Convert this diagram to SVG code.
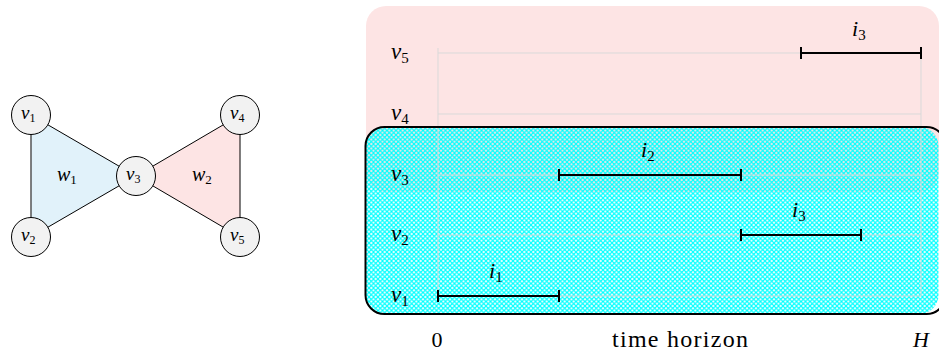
<svg xmlns="http://www.w3.org/2000/svg" width="939" height="354" viewBox="0 0 939 354">
<style>
.m{font-family:"Liberation Serif","DejaVu Serif",serif;font-style:italic;fill:#000}
.s{font-style:normal}
.r{font-family:"Liberation Serif","DejaVu Serif",serif;fill:#000}
.node{fill:#f2f2f2;stroke:#000;stroke-width:1}
.edge{stroke:#000;stroke-width:1;fill:none}
.grid{stroke:#d9d9d9;stroke-width:1;fill:none}
.iv{stroke:#000;stroke-width:2;fill:none}
</style>
<defs>
<pattern id="hatch" patternUnits="userSpaceOnUse" width="4.5" height="4.5">
<path d="M-1,-1 L5.5,5.5 M5.5,-1 L-1,5.5" stroke="#00ffff" stroke-width="1.2"/>
</pattern>
</defs>

<!-- left hypergraph -->
<g id="hyperedges">
<polygon id="w1-area" points="31,115 31,237 136,176" fill="#e1f2fa"/>
<polygon id="w2-area" points="240,115 240,237 136,176" fill="#fde4e4"/>
</g>
<g id="connectors">
<line x1="31" y1="115" x2="31" y2="237" style="stroke:#555;stroke-width:1.5"/>
<line class="edge" x1="31" y1="115" x2="136" y2="176"/>
<line class="edge" x1="31" y1="237" x2="136" y2="176"/>
<line class="edge" x1="240" y1="115" x2="136" y2="176"/>
<line class="edge" x1="240" y1="237" x2="136" y2="176"/>
<line class="edge" x1="240" y1="115" x2="240" y2="237"/>
</g>
<g id="w1-label"><text class="m" x="57" y="181" font-size="20">w<tspan class="s" font-size="13" dy="3">1</tspan></text></g>
<g id="w2-label"><text class="m" x="192" y="181" font-size="20">w<tspan class="s" font-size="13" dy="3">2</tspan></text></g>
<g id="n-v1"><circle class="node" cx="31" cy="115" r="19.5"/><text class="m" x="21" y="119" font-size="19">v<tspan class="s" font-size="12" dy="3">1</tspan></text></g>
<g id="n-v2"><circle class="node" cx="31" cy="237" r="19.5"/><text class="m" x="21" y="241" font-size="19">v<tspan class="s" font-size="12" dy="3">2</tspan></text></g>
<g id="n-v3"><circle class="node" cx="136" cy="176" r="19.5"/><text class="m" x="126" y="180" font-size="19">v<tspan class="s" font-size="12" dy="3">3</tspan></text></g>
<g id="n-v4"><circle class="node" cx="240" cy="115" r="19.5"/><text class="m" x="230" y="119" font-size="19">v<tspan class="s" font-size="12" dy="3">4</tspan></text></g>
<g id="n-v5"><circle class="node" cx="240" cy="237" r="19.5"/><text class="m" x="230" y="241" font-size="19">v<tspan class="s" font-size="12" dy="3">5</tspan></text></g>

<!-- right timeline -->
<g id="pink-box"><rect x="366" y="6" width="573" height="186" rx="20" fill="#fde4e4"/></g>
<g id="cyan-box-fill"><rect x="365.5" y="127" width="573" height="187" rx="19" fill="url(#hatch)"/></g>
<g id="grid">
<line class="grid" x1="438" y1="48" x2="438" y2="296"/>
<line class="grid" x1="921" y1="53" x2="921" y2="296"/>
<line class="grid" x1="438" y1="53" x2="921" y2="53"/>
<line class="grid" x1="438" y1="114" x2="921" y2="114"/>
<line class="grid" x1="438" y1="175" x2="921" y2="175"/>
<line class="grid" x1="438" y1="235" x2="921" y2="235"/>
<line class="grid" x1="438" y1="296" x2="921" y2="296"/>
</g>
<g id="cyan-box-outline"><rect x="365.5" y="127" width="580" height="187" rx="19" fill="none" stroke="#000" stroke-width="2"/></g>

<g id="row-labels">
<text class="m" x="391" y="59" font-size="23">v<tspan class="s" font-size="15" dy="4">5</tspan></text>
<text class="m" x="391" y="120" font-size="23">v<tspan class="s" font-size="15" dy="4">4</tspan></text>
<text class="m" x="391" y="181" font-size="23">v<tspan class="s" font-size="15" dy="4">3</tspan></text>
<text class="m" x="391" y="241" font-size="23">v<tspan class="s" font-size="15" dy="4">2</tspan></text>
<text class="m" x="391" y="302" font-size="23">v<tspan class="s" font-size="15" dy="4">1</tspan></text>
</g>

<g id="interval-i3-top">
<path class="iv" d="M801,53 H921 M801,47 V59 M921,47 V59"/>
<text class="m" x="852" y="36" font-size="22">i<tspan class="s" font-size="15" dy="4">3</tspan></text>
</g>
<g id="interval-i2">
<path class="iv" d="M559,175 H741 M559,169 V181 M741,169 V181"/>
<text class="m" x="641" y="157" font-size="22">i<tspan class="s" font-size="15" dy="4">2</tspan></text>
</g>
<g id="interval-i3-mid">
<path class="iv" d="M741,235 H861 M741,229 V241 M861,229 V241"/>
<text class="m" x="792" y="217" font-size="22">i<tspan class="s" font-size="15" dy="4">3</tspan></text>
</g>
<g id="interval-i1">
<path class="iv" d="M438,296 H559 M438,290 V302 M559,290 V302"/>
<text class="m" x="489" y="278" font-size="22">i<tspan class="s" font-size="15" dy="4">1</tspan></text>
</g>

<g id="axis-labels">
<text class="r" x="437" y="347" font-size="22" text-anchor="middle">0</text>
<text class="r" x="612" y="347" font-size="24" textLength="136" lengthAdjust="spacing">time horizon</text>
<text class="m" x="921" y="347" font-size="22" text-anchor="middle">H</text>
</g>
</svg>
